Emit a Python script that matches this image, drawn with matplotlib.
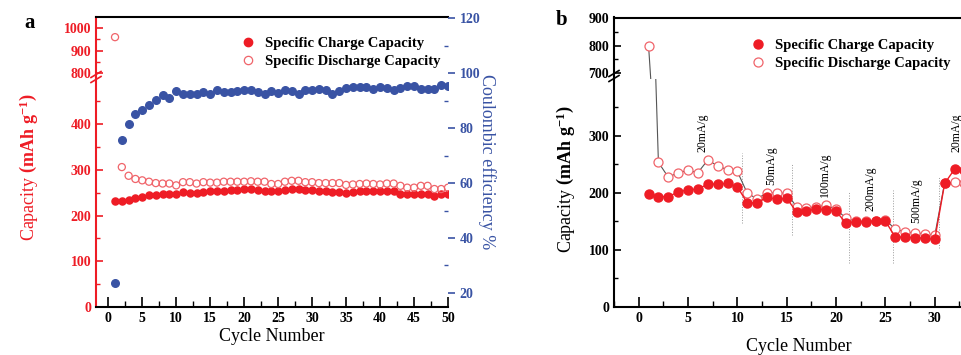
import matplotlib
matplotlib.use("Agg")
import matplotlib.pyplot as plt
from matplotlib.lines import Line2D
from matplotlib.ticker import MultipleLocator, FixedLocator

plt.rcParams['font.family'] = ['Liberation Serif', 'DejaVu Serif']
plt.rcParams['font.weight'] = 'bold'
plt.rcParams['mathtext.fontset'] = 'custom'
plt.rcParams['mathtext.rm'] = 'Liberation Serif:bold'
plt.rcParams['mathtext.bf'] = 'Liberation Serif:bold'
plt.rcParams['mathtext.it'] = 'Liberation Serif:bold'

# ---- panel a: 50 cycles ----
cycles_a = list(range(1, 51))
charge_a = [232, 232, 233, 238, 241, 244, 246, 248, 247, 247,
            251, 250, 250, 252, 253, 253, 254, 256, 256, 257,
            258, 256, 254, 253, 253, 256, 258, 258, 256, 256,
            254, 253, 252, 252, 250, 252, 253, 254, 253, 253,
            253, 254, 248, 248, 248, 248, 247, 243, 247, 248]
discharge_a = [960, 306, 287, 280, 277, 274, 271, 270, 270, 266,
               273, 273, 270, 273, 272, 272, 274, 274, 274, 274,
               275, 274, 274, 269, 269, 274, 276, 276, 273, 273,
               271, 271, 271, 271, 267, 268, 269, 270, 269, 268,
               270, 270, 265, 261, 261, 265, 265, 258, 258, 261]
efficiency_a = [23.7, 75.7, 81.6, 85.0, 86.5, 88.4, 90.1, 92.0, 90.8, 93.3,
                92.3, 92.3, 92.5, 93.0, 92.5, 93.7, 93.0, 93.2, 93.4, 93.9,
                93.7, 93.0, 92.3, 93.6, 92.6, 93.8, 93.6, 92.4, 94.0, 93.8,
                94.3, 94.0, 92.4, 93.4, 94.7, 95.0, 94.8, 95.0, 94.3, 95.0,
                94.7, 94.0, 94.7, 95.4, 95.4, 94.2, 94.2, 94.2, 95.8, 95.3]

# ---- panel b: rate test ----
cycles_b = list(range(1, 34))
charge_b = [198, 193, 193, 201, 205, 206, 215, 215, 216, 210,
            182, 182, 192, 188, 190, 166, 168, 171, 170, 167,
            147, 149, 149, 150, 150, 122, 122, 121, 120, 118,
            216, 241, 240]
discharge_b = [800, 253, 227, 235, 239, 235, 257, 247, 240, 237,
               199, 189, 200, 199, 199, 175, 173, 175, 178, 171,
               155, 150, 150, 151, 152, 136, 131, 129, 128, 125,
               217, 218, 217]
rate_labels = ['20mA/g', '50mA/g', '100mA/g', '200mA/g', '500mA/g', '20mA/g']
rate_label_x = [6.5, 13.4, 18.9, 23.5, 28.1, 32.2]
rate_label_y = [305, 247, 231, 206, 185, 305]
sep_x = [10.5, 15.5, 21.3, 25.8, 30.4]
sep_lo = [147, 126, 77, 77, 103]
sep_hi = [270, 252, 202, 205, 228]

RED = '#ee1c25'
OPEN = '#f0646a'
BLUE = '#3953a4'

W, H = 961, 355
fig = plt.figure(figsize=(W / 100, H / 100), dpi=100)


def rect(x0, x1, ytop, ybot):
    return [x0 / W, 1 - ybot / H, (x1 - x0) / W, (ybot - ytop) / H]


def style_ticks(ax, color='black'):
    ax.tick_params(axis='both', which='major', direction='in', length=5, width=1.2,
                   labelsize=10, colors=color)
    ax.tick_params(axis='both', which='minor', direction='in', length=3, width=1.0,
                   colors=color)


def break_mark(x, y, color):
    # little "//" on the left spine at the axis break
    for dy in (-2.5, 2.5):
        fig.add_artist(Line2D([(x - 5) / W, (x + 5) / W],
                              [1 - (y + dy + 3) / H, 1 - (y + dy - 3) / H],
                              color=color, lw=1.2))


# ================= panel a =================
xa0, xa1 = 96, 448
xlim_a = (-1.8, 50)
ax_lo = fig.add_axes(rect(xa0, xa1, 77, 307))
ax_hi = fig.add_axes(rect(xa0, xa1, 17, 77))
ax_ce = fig.add_axes(rect(xa0, xa1, 17, 307), frameon=False)
ax_ce.patch.set_visible(False)

for ax in (ax_lo, ax_hi):
    ax.scatter(cycles_a, charge_a, s=26, color=RED, zorder=3)
    ax.scatter(cycles_a, discharge_a, s=26, facecolors='none', edgecolors=OPEN,
               linewidths=0.9, zorder=3)
    ax.set_xlim(*xlim_a)
    for sp in ax.spines.values():
        sp.set_linewidth(1.5)
    ax.spines['left'].set_color(RED)
    ax.spines['right'].set_visible(False)

ax_lo.set_ylim(0, 503)
ax_lo.yaxis.set_major_locator(FixedLocator([0, 100, 200, 300, 400]))
ax_lo.yaxis.set_minor_locator(FixedLocator([50, 150, 250, 350, 450]))
ax_lo.spines['top'].set_visible(False)
ax_lo.xaxis.set_major_locator(MultipleLocator(5))
ax_lo.xaxis.set_minor_locator(MultipleLocator(2.5))
style_ticks(ax_lo)
ax_lo.tick_params(axis='y', which='both', colors=RED)
ax_lo.tick_params(axis='x', which='major', length=7)
ax_lo.tick_params(axis='x', which='minor', length=4)
ax_lo.set_xlabel('Cycle Number', fontsize=13, labelpad=2)
ax_lo.set_ylabel(r'Capacity $\left(\mathrm{mAh\ g^{-1}}\right)$', color=RED,
                 fontsize=13)
ax_lo.yaxis.set_label_coords(-0.155, 0.61)

ax_hi.set_ylim(782, 1050)
ax_hi.yaxis.set_major_locator(FixedLocator([800, 900, 1000]))
ax_hi.yaxis.set_minor_locator(FixedLocator([850, 950]))
ax_hi.spines['bottom'].set_visible(False)
ax_hi.set_xticks([])
style_ticks(ax_hi)
ax_hi.tick_params(axis='y', which='both', colors=RED)

ax_ce.scatter(cycles_a, efficiency_a, s=30, color=BLUE, zorder=3)
ax_ce.set_xlim(*xlim_a)
ax_ce.set_ylim(14.9, 120.4)
ax_ce.set_xticks([])
ax_ce.yaxis.tick_right()
ax_ce.yaxis.set_label_position('right')
ax_ce.spines['right'].set_visible(True)
ax_ce.spines['right'].set_color(BLUE)
ax_ce.spines['right'].set_linewidth(1.5)
ax_ce.yaxis.set_major_locator(MultipleLocator(20))
ax_ce.yaxis.set_minor_locator(MultipleLocator(10))
ax_ce.tick_params(axis='y', which='major', direction='out', length=5, width=1.2,
                  labelsize=10, colors=BLUE)
ax_ce.tick_params(axis='y', which='minor', direction='in', length=3, width=1.0,
                  colors=BLUE)
ax_ce.set_ylabel('Coulombic efficiency %', color=BLUE, fontsize=13,
                 rotation=270, va='bottom')
ax_ce.yaxis.set_label_coords(1.085, 0.5)

break_mark(xa0, 77, RED)

handles = [Line2D([], [], ls='none', marker='o', ms=6, color=RED),
           Line2D([], [], ls='none', marker='o', ms=6, mfc='none', mec=OPEN, mew=0.9)]
fig.legend(handles, ['Specific Charge Capacity', 'Specific Discharge Capacity'],
           loc='upper left', bbox_to_anchor=(226 / W, 1 - 24 / H), frameon=False,
           fontsize=10.5, handletextpad=0.6, labelspacing=0.3, handlelength=1.2)
fig.text(24 / W, 1 - 23 / H, 'a', fontsize=15, fontweight='bold', va='center')

# ================= panel b =================
xb0 = 614
xlim_b = (-2.5, 35)
xb1 = xb0 + (xlim_b[1] - xlim_b[0]) * 9.87
bx_lo = fig.add_axes(rect(xb0, xb1, 78.5, 306.7))
bx_hi = fig.add_axes(rect(xb0, xb1, 17.5, 78.5))

for ax in (bx_lo, bx_hi):
    ax.plot(cycles_b, discharge_b, color='#555555', lw=0.8, marker='o', ms=6.5,
            mfc='white', mec=OPEN, mew=0.9, zorder=3)
    ax.plot(cycles_b, charge_b, color=RED, lw=1.0, marker='o', ms=6.5,
            mfc=RED, mec=RED, zorder=4)
    ax.set_xlim(*xlim_b)
    for sp in ax.spines.values():
        sp.set_linewidth(1.5)
    ax.spines['right'].set_visible(False)

bx_lo.set_ylim(0, 400)
bx_lo.yaxis.set_major_locator(FixedLocator([0, 100, 200, 300]))
bx_lo.yaxis.set_minor_locator(FixedLocator([50, 150, 250, 350]))
bx_lo.spines['top'].set_visible(False)
bx_lo.xaxis.set_major_locator(FixedLocator([0, 5, 10, 15, 20, 25, 30]))
bx_lo.xaxis.set_minor_locator(MultipleLocator(2.5))
style_ticks(bx_lo)
bx_lo.tick_params(axis='x', which='major', length=7)
bx_lo.tick_params(axis='x', which='minor', length=4)
bx_lo.set_xlabel('Cycle Number', fontsize=13, labelpad=10)
bx_lo.set_ylabel(r'Capacity $\left(\mathrm{mAh\ g^{-1}}\right)$', fontsize=13)
bx_lo.yaxis.set_label_coords(-0.097, 0.56)

for x, lo, hi in zip(sep_x, sep_lo, sep_hi):
    bx_lo.plot([x, x], [lo, hi], color='#9a9a9a', lw=0.7, ls=':', zorder=1)
for lab, x, y in zip(rate_labels, rate_label_x, rate_label_y):
    bx_lo.text(x, y, lab, rotation=90, fontsize=8.5, fontweight='normal',
               ha='center', va='center')

bx_hi.set_ylim(680, 902)
bx_hi.yaxis.set_major_locator(FixedLocator([700, 800, 900]))
bx_hi.yaxis.set_minor_locator(FixedLocator([750, 850]))
bx_hi.spines['bottom'].set_visible(False)
bx_hi.set_xticks([])
style_ticks(bx_hi)

break_mark(xb0, 76, 'black')

handles_b = [Line2D([], [], ls='none', marker='o', ms=6.5, color=RED),
             Line2D([], [], ls='none', marker='o', ms=6.5, mfc='none', mec=OPEN, mew=0.9)]
fig.legend(handles_b, ['Specific Charge Capacity', 'Specific Discharge Capacity'],
           loc='upper left', bbox_to_anchor=(736 / W, 1 - 26 / H), frameon=False,
           fontsize=10.5, handletextpad=0.6, labelspacing=0.3, handlelength=1.2)
fig.text(556 / W, 1 - 20 / H, 'b', fontsize=15, fontweight='bold', va='center')

fig.savefig('out.png', dpi=100)
